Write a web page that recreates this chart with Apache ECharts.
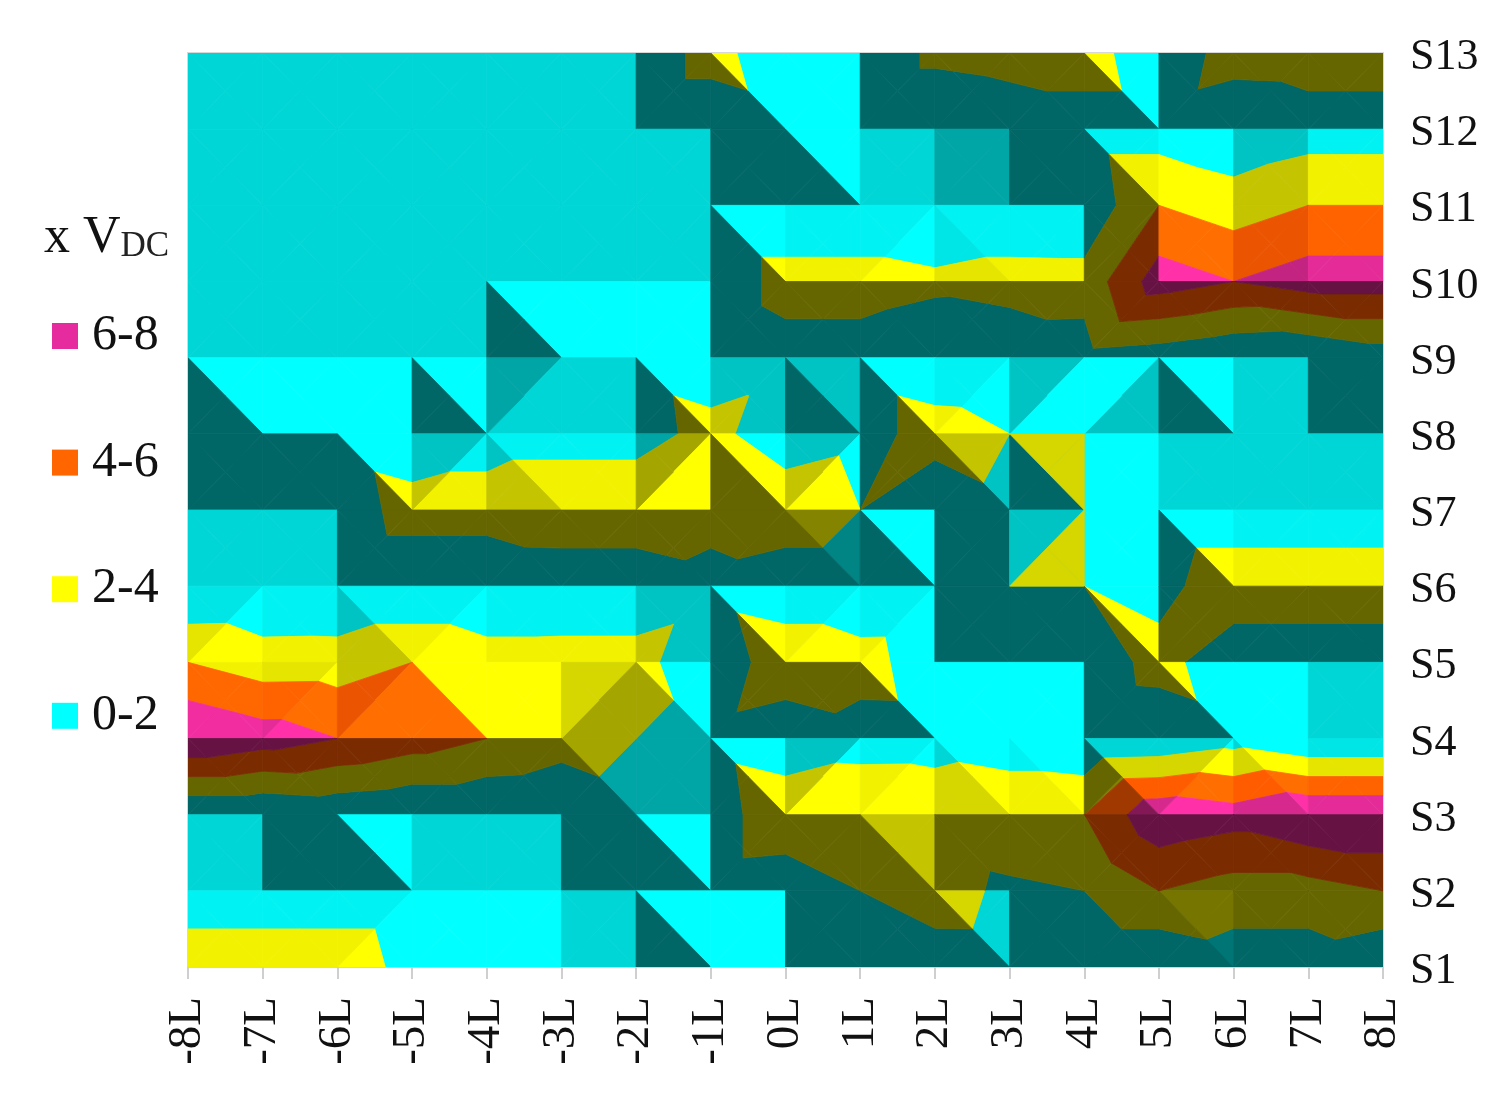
<!DOCTYPE html>
<html><head><meta charset="utf-8"><style>html,body{margin:0;padding:0;background:#fff}#c{width:1498px;height:1095px}</style>
<script src="https://cdn.jsdelivr.net/npm/echarts@6/dist/echarts.min.js"></script></head>
<body><div id="c"></div>
<script>
// Column positions run -8L..8L, rows S13 (top)..S1 (bottom). Values are x VDC.
const columns = [-8,-7,-6,-5,-4,-3,-2,-1,0,1,2,3,4,5,6,7,8];
const rows = [13,12,11,10,9,8,7,6,5,4,3,2,1];
const bandNames = ['0-2','2-4','4-6','6-8'];
const bandEdges = [-99,2,4,6,99];
const zS13 = [.5,.5,.5,.5,.5,.5,.5,2.77,.57,.6,2.35,2.61,3,.44,2.9,3,3];
const zS12 = [.5,.5,.5,.5,.5,.5,.5,.5,1.2,.6,.6,1,1,1,.3,1,1];
const zS11 = [.5,.5,.5,.5,.5,.5,.5,.5,.5,.5,.5,.5,.5,4,3,4,4];
const zS10 = [.5,.5,.5,.5,.5,.5,.5,.5,2.7,2.7,2.33,2.7,2.65,7,6,7,7];
const zS9  = [.5,.5,.5,.5,.5,.5,1.23,.5,1.27,1.27,.76,.64,1.3,.85,.1,-.14,.85];
const zS8  = [.5,.5,1,.22,1,1,1,2.77,.4,1.27,2.73,2,2,.5,.5,.5,.5];
const zS7  = [.5,.5,.5,3,3,3.9,3.9,3,3.8,2,.6,1.6,2,.5,.5,.5,.5];
const zS6  = [0,.1,0,0,0,.1,.1,1,.13,.14,.2,2,2,1.2,3.5,3.5,3.5];
const zS5  = [4,2.94,3,4,3,3,3,-.2,3.86,2.9,.65,.5,.4,2.83,.44,.44,.44];
const zS4  = [8,7,6,5,4,3,2,1,.06,1.06,1.1,.5,.1,.3,1.17,0,0];
const zS3  = [0,0,.4,0,0,-.2,1,.5,3.98,3.8,3.4,3.98,3.98,7.5,6.83,8,8];
const zS2  = [.5,.5,.5,.5,.5,.5,.5,.5,.15,2,3,1.5,2,4,3.1,3.1,4];
const zS1  = [3.5,3.5,3.5,1.16,.5,.5,.5,.5,.5,.5,.96,1,0,0,.86,.86,0];
const surface = [zS13,zS12,zS11,zS10,zS9,zS8,zS7,zS6,zS5,zS4,zS3,zS2,zS1];
// Read-off light level of each cell's facets: top,right,bottom,left (one letter = all four);
// a leading / or \ names the fold of the cell.
const lightS13 = 'C C C C C C /E AAEE A /E /E /E AAEE /E /E E';
const lightS12 = 'C C C C C C C E AAEE C G E BBEE A K B';
const lightS11 = 'C C C C C C C AAEE B BAAB BBFF B /E A K F';
const lightS10 = 'C C C C AAEE A A /E E E E E /E E E E';
const lightS9  = 'AAEE A A AAEE GCCG C AAEE /K KKEE AAEE BAAB KAAK AKKA AAEE C E';
const lightS8  = 'E E AAEE KBBK BBKK B GAAG AAEE KAAK /E KKEE CCEE A C C C';
const lightS7  = 'C C /E E /E E E /E HHEE AAEE E KCCK A AAEE B B';
const lightS6  = 'FAAF B BBKK BAAB B B /K AAEE BAAB BAAB E E AAEE /E E E';
const lightS5  = 'B FAAF KAAK A A CGGC AAGG /E E AAEE A A /E AAEE A C';
const lightS4  = 'E E E E E GGEE G AAEE KAAK BAAB AACC AABB \\CCHE CAAC AACC F';
const lightS3  = 'C E AAEE C C E AAEE /E E KKEE E E /E E E E';
const lightS2  = 'B B BAAB A A C AAEE A E E CCEE E /E JJEE E /E';
const lightRows = [lightS13,lightS12,lightS11,lightS10,lightS9,lightS8,lightS7,lightS6,lightS5,lightS4,lightS3,lightS2].map(s=>s.split(' '));
const lightLevel = {A:1,B:.95,F:.9,C:.84,K:.77,G:.65,H:.52,J:.46,E:.4};

const shadeFns = [
  s=>`rgb(0,${255*s|0},${255*s|0})`,
  s=>`rgb(${255*s|0},${255*s|0},0)`,
  s=>`rgb(${Math.min(255,306*s)|0},${110*s|0},0)`,
  s=>`rgb(${255*s|0},${48*s|0},${168*s|0})`
];
const legendColors = ['#00FFFF','#FFFF00','#FF6600','#E62B9E'];

function parseCell(str){
  let fold=null;
  if(str[0]==='/'||str[0]==='\\'){fold=str[0];str=str.slice(1);}
  const f=str.length===1?[str,str,str,str]:str.split('');
  if(!fold){
    if(f[0]===f[1]&&f[2]===f[3])fold='\\';
    else if(f[0]===f[3]&&f[1]===f[2])fold='/';
    else fold='m';
  }
  return {fold,levels:f.map(k=>lightLevel[k])};
}
function clip(poly,keep,level){
  const out=[];
  for(let i=0;i<poly.length;i++){
    const p=poly[i],q=poly[(i+1)%poly.length];
    const pin=keep(p[2]),qin=keep(q[2]);
    if(pin)out.push(p);
    if(pin!==qin){
      const t=(level-p[2])/(q[2]-p[2]);
      out.push([p[0]+(q[0]-p[0])*t,p[1]+(q[1]-p[1])*t,level]);
    }
  }
  return out;
}
function polyArea(p){
  let a=0;
  for(let i=0;i<p.length;i++){const q=p[(i+1)%p.length];a+=p[i][0]*q[1]-q[0]*p[i][1];}
  return Math.abs(a)/2;
}
function bandPieces(r,c,band){
  const x=columns[c],y=rows[r];
  const a=[x,y,surface[r][c]],b=[x+1,y,surface[r][c+1]],
        cc=[x+1,y-1,surface[r+1][c+1]],d=[x,y-1,surface[r+1][c]];
  const cell=parseCell(lightRows[r][c]);
  const mz=cell.fold==='\\'?(a[2]+cc[2])/2:cell.fold==='/'?(b[2]+d[2])/2:(a[2]+b[2]+cc[2]+d[2])/4;
  const m=[x+.5,y-.5,mz];
  const facets=[[a,b,m],[b,cc,m],[cc,d,m],[d,a,m]];
  const lo=bandEdges[band],hi=bandEdges[band+1],res=[];
  facets.forEach((t,i)=>{
    let p=clip(t,z=>z>=lo,lo);
    if(p.length)p=clip(p,z=>z<=hi,hi);
    if(p.length>=3&&polyArea(p)>1e-4)res.push({pts:p,s:cell.levels[i]});
  });
  return res;
}
const cellData=[];
for(let r=0;r<rows.length-1;r++)for(let c=0;c<columns.length-1;c++)cellData.push([columns[c],rows[r]]);

const serif='"Liberation Serif","Times New Roman",serif';
const series=bandNames.map((name,band)=>({
  name,type:'custom',coordinateSystem:'cartesian2d',silent:true,animation:false,
  itemStyle:{color:legendColors[band]},encode:{x:0,y:1},data:cellData,clip:true,
  renderItem(params,api){
    const c=api.value(0)+8,r=13-api.value(1);
    return {type:'group',children:bandPieces(r,c,band).map(pc=>{
      const col=shadeFns[band](pc.s);
      return {type:'polygon',shape:{points:pc.pts.map(p=>api.coord([p[0],p[1]]))},
        style:{fill:col,stroke:col,lineWidth:.8}};
    })};
  }
}));

const chart=echarts.init(document.getElementById('c'),null,{renderer:'canvas'});
chart.setOption({
  animation:false,backgroundColor:'#fff',
  title:{left:39,top:207,text:'{a|x V}{b|DC}',textStyle:{fontWeight:'normal',rich:{
    a:{fontFamily:serif,fontSize:52,fontWeight:'normal',color:'#111'},
    b:{fontFamily:serif,fontSize:35,fontWeight:'normal',color:'#222',verticalAlign:'bottom'}}}},
  legend:{orient:'vertical',left:47,top:306,itemWidth:26,itemHeight:26,itemGap:76.6,icon:'rect',selectedMode:false,
    data:['6-8','4-6','2-4','0-2'],
    textStyle:{fontFamily:serif,fontSize:50,color:'#111',padding:[0,0,0,9]}},
  grid:{left:188,right:115,top:53,bottom:128,show:true,borderColor:'#d8d8d8',borderWidth:2,containLabel:false},
  xAxis:{type:'value',min:-8,max:8,interval:1,position:'bottom',splitLine:{show:false},
    axisLine:{show:true,lineStyle:{color:'#d4d4d4',width:2}},
    axisTick:{show:true,length:12,lineStyle:{color:'#cfcfcf',width:2}},
    axisLabel:{rotate:90,margin:30,fontFamily:serif,fontSize:47,color:'#111',formatter:v=>v+'L'}},
  yAxis:{type:'value',min:1,max:13,interval:1,position:'right',splitLine:{show:false},
    axisLine:{show:false},axisTick:{show:false},
    axisLabel:{margin:27,fontFamily:serif,fontSize:44,color:'#111',verticalAlign:'top',lineHeight:9,formatter:v=>'S'+v}},
  series
});
</script></body></html>
